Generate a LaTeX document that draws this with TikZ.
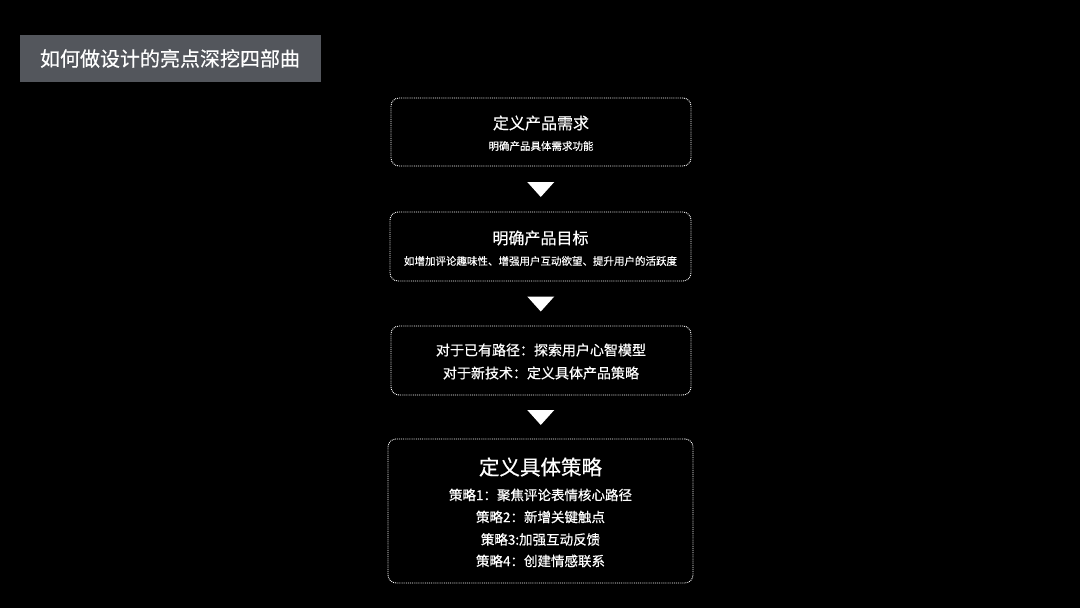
\documentclass[tikz,border=0pt]{standalone}
\usepackage{fontspec}
\setmainfont{Noto Sans CJK SC}[FakeBold=0.5]
\usetikzlibrary{calc}
\definecolor{titlebg}{HTML}{53565C}
\colorlet{fg}{white}
\colorlet{bg}{black}
\tikzset{
  titlebox/.style={fill=titlebg,text=fg,minimum width=301pt,minimum height=47pt,inner sep=0pt,font=\fontsize{20}{22}\selectfont},
  stagebox/.style={draw=fg!78,densely dotted,line width=.9pt,rounded corners=8pt,inner sep=0pt},
  headtext/.style={text=fg,font=\fontsize{16}{18}\selectfont},
  bighead/.style={text=fg,font=\fontsize{20.5}{22}\selectfont},
  subtext/.style={text=fg!88,font=\fontsize{10.5}{12}\selectfont},
  linetext/.style={text=fg!92,font=\fontsize{14}{16}\selectfont},
  steptext/.style={text=fg!92,font=\fontsize{13.5}{16}\selectfont},
  downtri/.style={fill=fg}
}

\begin{document}
\begin{tikzpicture}[x=1pt,y=-1pt]
    \useasboundingbox[fill=bg] (0,0) rectangle (1080,608);
    \node[titlebox] (title) at (170,58.5) {如何做设计的亮点深挖四部曲};

    % stage 1
    \node[stagebox,minimum width=300pt,minimum height=68pt] (need) at (541,132) {};
    \node[headtext] (needhead) at (541,123) {定义产品需求};
    \node[subtext] (needsub) at (541,146) {明确产品具体需求功能};

    % stage 2
    \node[stagebox,minimum width=301pt,minimum height=69pt] (goal) at (540.5,246.5) {};
    \node[headtext] (goalhead) at (540.5,238) {明确产品目标};
    \node[subtext] (goalsub) at (540.5,261) {如增加评论趣味性、增强用户互动欲望、提升用户的活跃度};

    % stage 3
    \node[stagebox,minimum width=300pt,minimum height=69pt] (path) at (541,360.5) {};
    \node[linetext] (pathold) at (541,350) {对于已有路径：探索用户心智模型};
    \node[linetext] (pathnew) at (541,373) {对于新技术：定义具体产品策略};

    % stage 4
    \node[stagebox,minimum width=305pt,minimum height=144pt] (plan) at (540.5,511) {};
    \node[bighead] (planhead) at (540.5,467) {定义具体策略};
    \node[steptext] (planone) at (540.5,495) {策略1：聚焦评论表情核心路径};
    \node[steptext] (plantwo) at (540.5,517) {策略2：新增关键触点};
    \node[steptext] (planthree) at (540.5,539.5) {策略3:加强互动反馈};
    \node[steptext] (planfour) at (540.5,561) {策略4：创建情感联系};

    % arrows
    \fill[downtri] ($(need.south)!.5!(goal.north)$) ++(-13.5,-7) -- ++(27,0) -- ++(-13.5,15) -- cycle;
    \fill[downtri] ($(goal.south)!.5!(path.north)$) ++(-13.5,-7) -- ++(27,0) -- ++(-13.5,15) -- cycle;
    \fill[downtri] ($(path.south)!.5!(plan.north)$) ++(-13.5,-7) -- ++(27,0) -- ++(-13.5,15) -- cycle;
\end{tikzpicture}
\end{document}
